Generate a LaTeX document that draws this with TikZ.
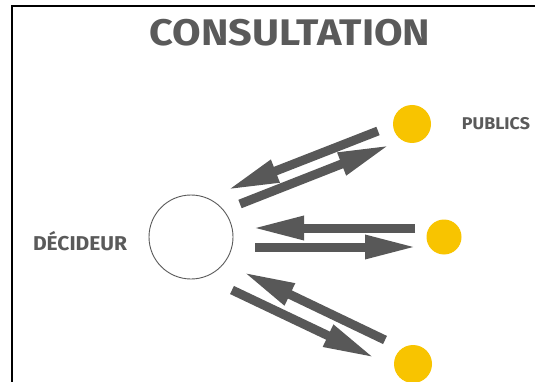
\documentclass[tikz,border=0pt]{standalone}
\usepackage{fontspec}
\setmainfont{Fira Sans}
\usetikzlibrary{arrows.meta}
\definecolor{arrowgray}{RGB}{88,88,88}
\definecolor{textgray}{RGB}{90,90,90}
\definecolor{pubyellow}{RGB}{248,196,0}
\begin{document}
\begin{tikzpicture}[x=1pt,y=-1pt,
  flow/.style={draw=arrowgray,line width=9pt,-{Triangle[length=52pt,width=22pt]}},
  pub/.style={circle,fill=pubyellow,minimum size=38pt,inner sep=0pt},
  label/.style={text=textgray,font=\bfseries,inner sep=0pt}]
\useasboundingbox (0,0) rectangle (535,382);
\fill[white] (0,0) rectangle (535,382);
\draw[line width=2pt] (12,383) -- (12,6) -- (536,6);
\node[label,font=\fontsize{37}{40}\selectfont\bfseries,xscale=1.12] (title) at (290,33) {CONSULTATION};
\node[circle,draw=textgray,line width=0.9pt,minimum size=84pt,inner sep=0pt] (dec) at (191,237) {};
\node[label,font=\fontsize{20}{22}\selectfont\bfseries,xscale=1.05] (declab) at (80,241) {DÉCIDEUR};
\node[label,font=\fontsize{17}{20}\selectfont\bfseries,xscale=1.05] (publab) at (496,124) {PUBLICS};
\node[pub] (p1) at (412,124) {};
\node[pub,minimum size=35pt] (p2) at (444,237) {};
\node[pub] (p3) at (413,364) {};
% top pair
\coordinate (a1s) at (378,131); \coordinate (a1e) at (227,190);
\coordinate (a2s) at (240,204); \coordinate (a2e) at (390,145);
% middle pair
\coordinate (c1s) at (415,228); \coordinate (c1e) at (252,228);
\coordinate (c2s) at (255,247); \coordinate (c2e) at (417,247);
% bottom pair
\coordinate (b1s) at (385,340); \coordinate (b1e) at (243,272);
\coordinate (b2s) at (232,290); \coordinate (b2e) at (375,358);
\draw[flow] (a1s) -- (a1e);
\draw[flow] (a2s) -- (a2e);
\draw[flow] (c1s) -- (c1e);
\draw[flow] (c2s) -- (c2e);
\draw[flow] (b1s) -- (b1e);
\draw[flow] (b2s) -- (b2e);
\end{tikzpicture}
\end{document}
